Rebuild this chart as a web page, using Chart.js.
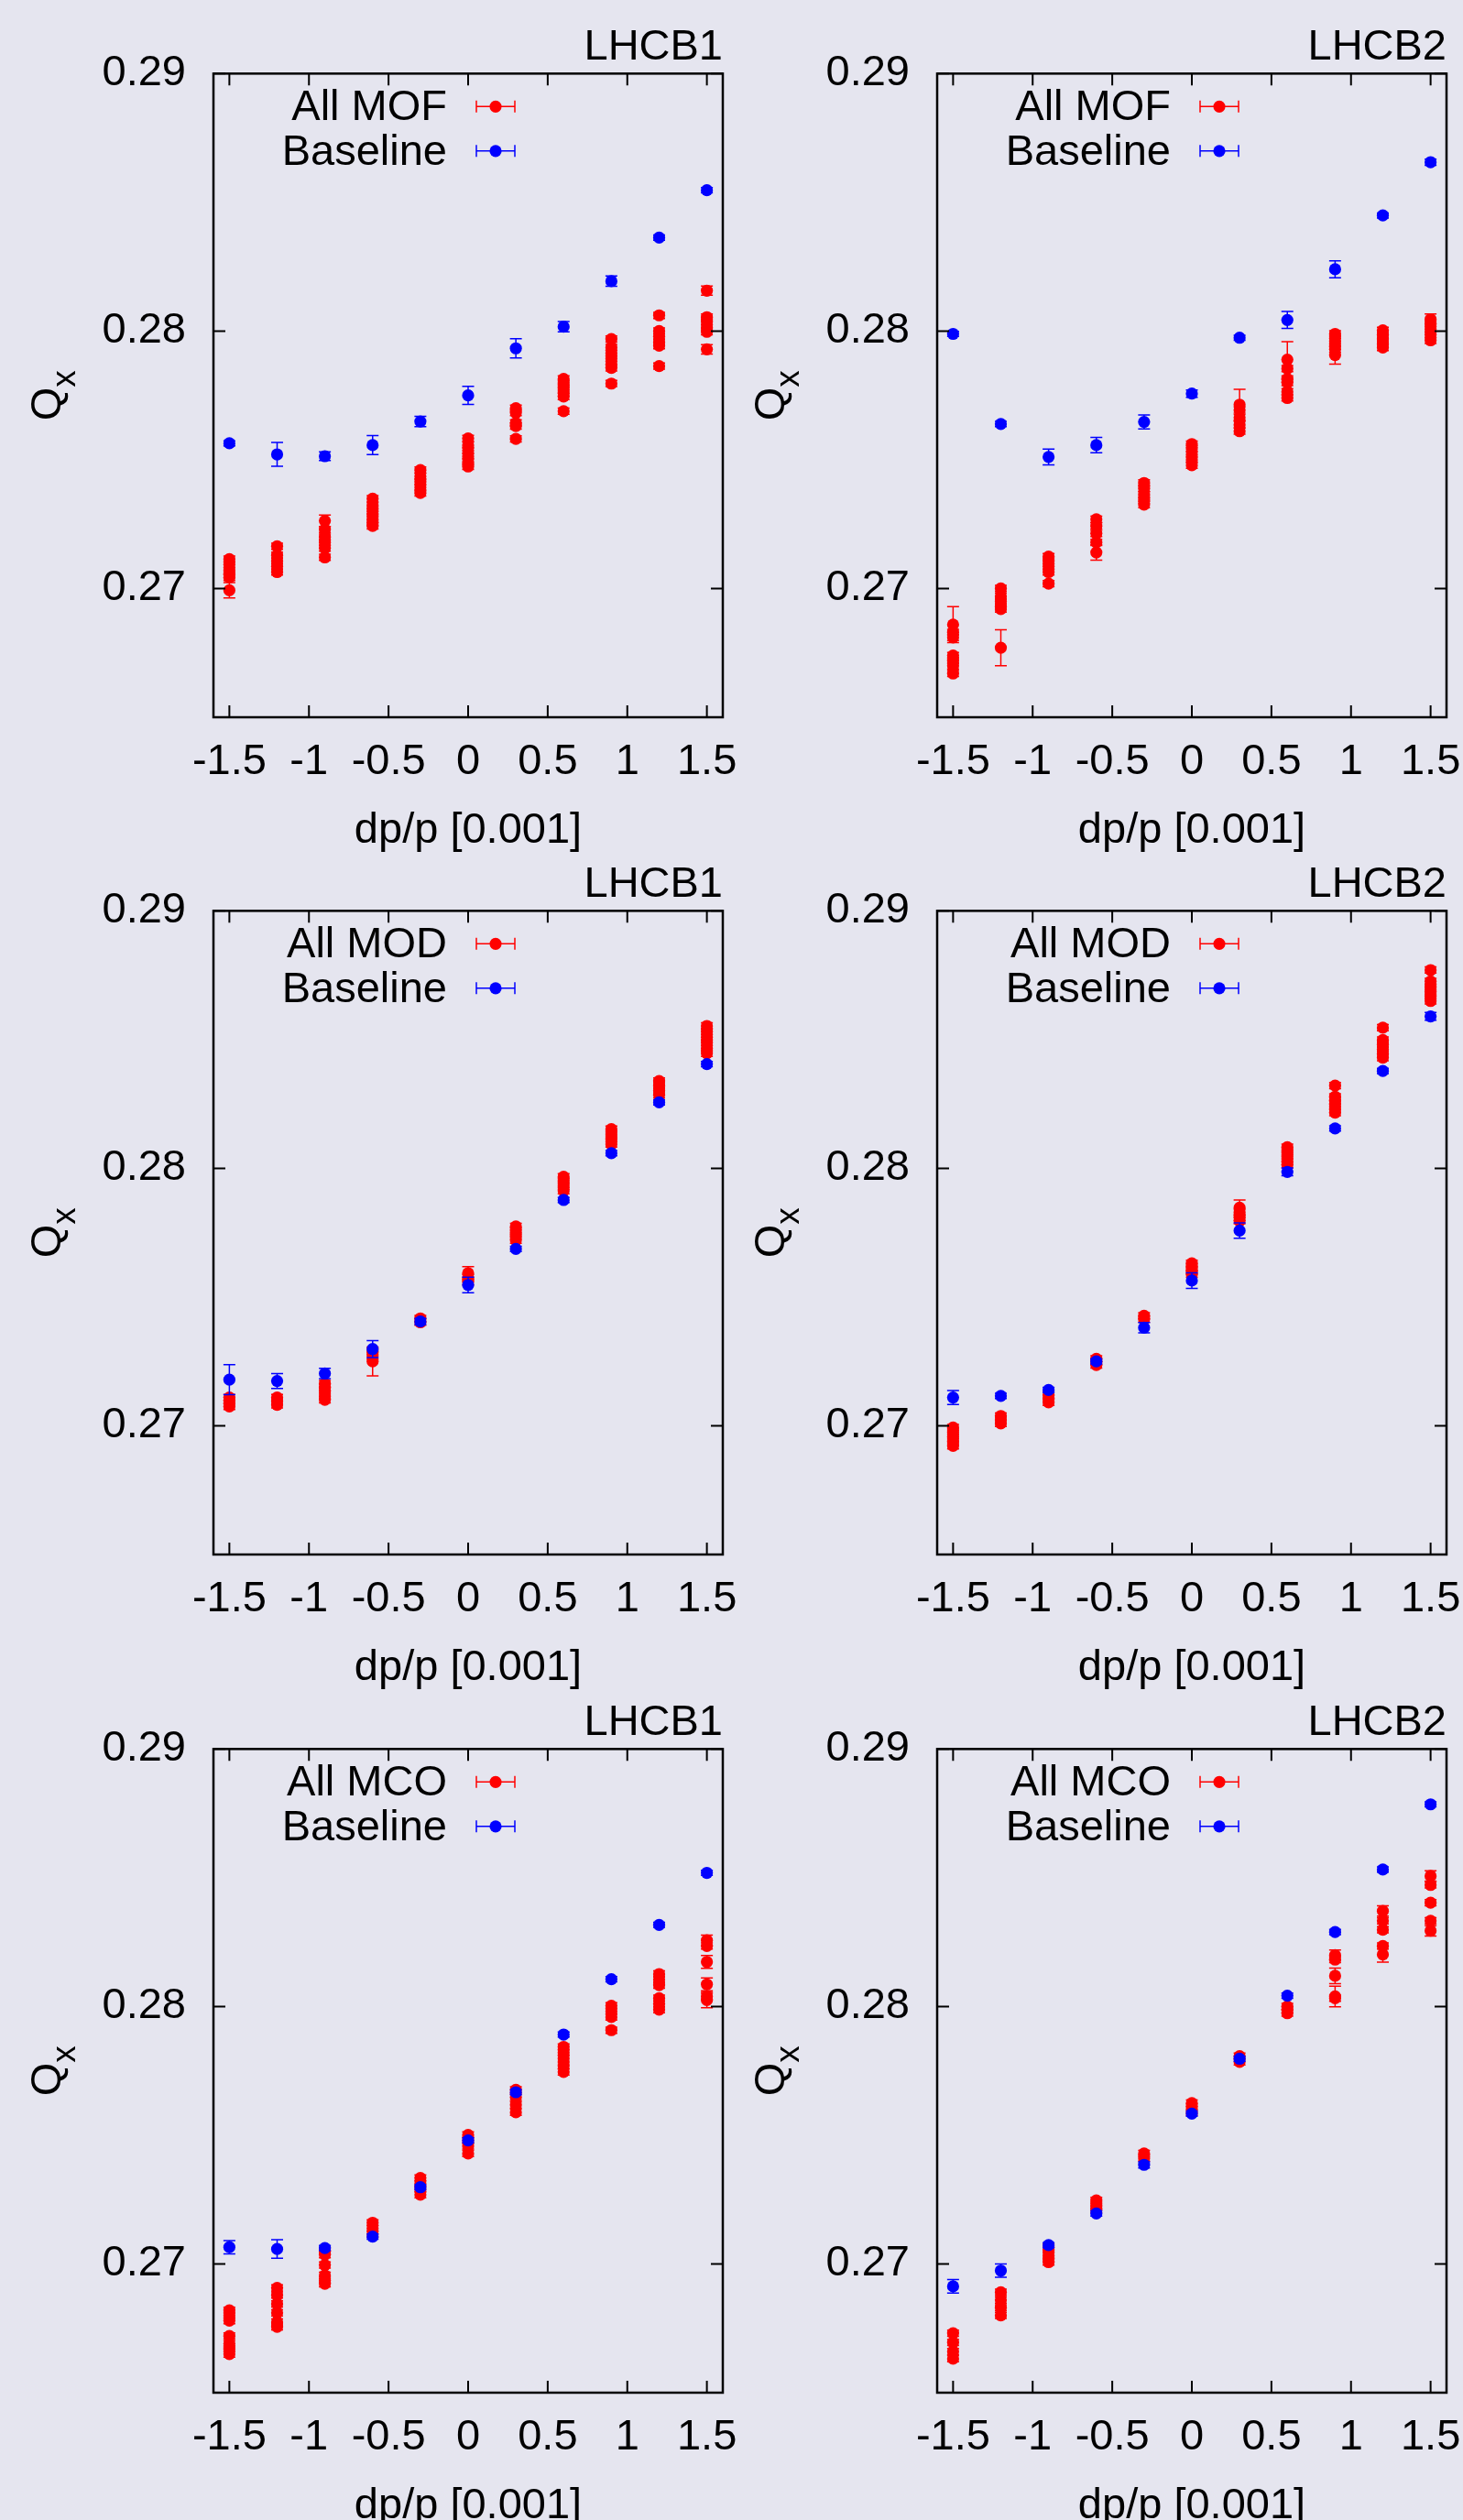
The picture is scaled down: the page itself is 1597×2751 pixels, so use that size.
<!DOCTYPE html>
<html>
<head>
<meta charset="utf-8">
<script src="https://cdn.jsdelivr.net/npm/chart.js@4.4.1/dist/chart.umd.min.js"></script>
<style>
  html, body { margin: 0; padding: 0; width: 1597px; height: 2751px; overflow: hidden; background: #e5e5ef; }
  canvas { position: absolute; }
</style>
</head>
<body>
<canvas id="p1" width="807" height="960" style="left:0;top:0"></canvas>
<canvas id="p2" width="807" height="960" style="left:790px;top:0"></canvas>
<canvas id="p3" width="807" height="960" style="left:0;top:914px"></canvas>
<canvas id="p4" width="807" height="960" style="left:790px;top:914px"></canvas>
<canvas id="p5" width="807" height="960" style="left:0;top:1829px"></canvas>
<canvas id="p6" width="807" height="960" style="left:790px;top:1829px"></canvas>
<script>
// dp/p settings, in units of 0.001
const dpp = [-1.5, -1.2, -0.9, -0.6, -0.3, 0, 0.3, 0.6, 0.9, 1.2, 1.5];
const xTicks = [-1.5, -1, -0.5, 0, 0.5, 1, 1.5];
const yTicks = [0.27, 0.28, 0.29];
const redErr = 0.00012; // default error of the "All ..." points; [value, err] where larger

// MOF
const mofB1Red = [
  [0.27114, 0.27093, 0.27071, 0.27054, 0.27043, [0.26993, 0.0003]],
  [0.27164, 0.27129, 0.27107, 0.27086, 0.27064],
  [[0.27263, 0.00022], 0.27229, 0.27200, 0.27179, 0.27157, 0.27121],
  [0.27349, 0.27321, 0.27300, 0.27279, 0.27257, 0.27243],
  [0.27460, 0.27436, 0.27414, 0.27393, 0.27371],
  [0.27583, 0.27557, 0.27536, 0.27514, 0.27493, 0.27474],
  [0.27700, 0.27683, 0.27643, 0.27631, 0.27581],
  [0.27814, 0.27796, 0.27779, 0.27760, 0.27746, 0.27689],
  [0.27969, 0.27936, 0.27914, 0.27893, 0.27871, 0.27857, 0.27796],
  [0.28061, 0.28000, 0.27979, 0.27957, 0.27943, 0.27864],
  [[0.28157, 0.00018], 0.28054, 0.28036, 0.28014, 0.27997, [0.27929, 0.00018]]
];
const mofB1Base = [0.27564, 0.27521, 0.27514, 0.27557, 0.27649, 0.2775, 0.27933, 0.28017, 0.28194, 0.28363, 0.28547];
const mofB1BaseErr = [0.0001, 0.00046, 0.00017, 0.00037, 0.0002, 0.00035, 0.00037, 0.0002, 0.0002, 0.0001, 0.0001];

const mofB2Red = [
  [[0.2686, 0.0007], 0.2683, 0.2681, 0.2674, 0.2672, 0.2670, 0.2667],
  [0.2700, 0.2697, 0.2695, 0.2693, 0.2692, [0.2677, 0.0007]],
  [0.27124, 0.27107, 0.27086, 0.27064, 0.27019],
  [0.27269, 0.27243, 0.27214, 0.27179, [0.2714, 0.0003]],
  [0.2741, 0.27389, 0.27364, 0.27343, 0.27326],
  [0.27561, 0.27543, 0.27521, 0.275, 0.27479],
  [[0.27714, 0.0006], 0.27693, 0.27664, 0.27636, 0.27611],
  [[0.27889, 0.0007], 0.27854, 0.27814, 0.278, 0.27764, 0.2774],
  [0.27989, 0.27971, 0.2795, 0.27929, [0.27907, 0.00035]],
  [0.28003, 0.27986, 0.27969, 0.2795, 0.27936],
  [[0.28046, 0.0002], 0.28029, 0.28007, 0.27986, 0.27964]
];
const mofB2Base = [0.27989, 0.27639, 0.27511, 0.27557, 0.27647, 0.27757, 0.27974, 0.28043, 0.2824, 0.28449, 0.28656];
const mofB2BaseErr = [0.0001, 0.0001, 0.00031, 0.0003, 0.00027, 0.00014, 0.0001, 0.00033, 0.00033, 0.0001, 0.00012];

// MOD
const modB1Red = [
  [0.2711, 0.27099, 0.27087, 0.27075],
  [0.2711, 0.27096, 0.27081],
  [0.27164, 0.27149, 0.27135, 0.27116, 0.27101],
  [0.27289, 0.27272, [0.2725, 0.00056]],
  [0.27417, 0.27402],
  [[0.27593, 0.00025], 0.27576, 0.27559],
  [0.27774, 0.27757, 0.27738, 0.27721],
  [0.27967, 0.27949, 0.27931, 0.27913],
  [0.28152, 0.28133, 0.28114, 0.28094],
  [0.28339, 0.28321, 0.28302, 0.28285],
  [0.28553, 0.28531, 0.28509, 0.28488, 0.28466, 0.28447]
];
const modB1Base = [0.27179, 0.27174, 0.27203, 0.27298, 0.27405, 0.27547, 0.27687, 0.27877, 0.28059, 0.28256, 0.28405];
const modB1BaseErr = [0.00058, 0.00029, 0.0002, 0.00033, 0.00012, 0.0003, 0.0001, 0.0001, 0.0001, 0.0001, 0.0001];

const modB2Red = [
  [0.26993, 0.26975, 0.26957, 0.26939, 0.26922],
  [0.27038, 0.27023, 0.27009],
  [0.2712, 0.27106, 0.27091],
  [0.2726, 0.2725, 0.27236],
  [0.27427, 0.27414],
  [0.27631, 0.27617, 0.27602, 0.27588],
  [[0.27847, 0.0003], 0.27829, 0.2781, 0.27796],
  [0.28082, 0.28064, 0.28046, 0.28027, 0.28013],
  [0.28321, 0.28278, 0.28263, 0.28249, 0.2823, 0.28216],
  [0.28546, 0.28498, 0.28481, 0.28462, 0.28444, 0.2843],
  [0.2877, 0.28726, 0.28705, 0.28687, 0.28669, 0.2865]
];
const modB2Base = [0.2711, 0.27116, 0.27139, 0.2725, 0.27381, 0.27564, 0.27758, 0.27986, 0.28155, 0.28378, 0.2859];
const modB2BaseErr = [0.00027, 0.0001, 0.0001, 0.0001, 0.0002, 0.0003, 0.0003, 0.00015, 0.0001, 0.0001, 0.00015];

// MCO
const mcoB1Red = [
  [0.2682, 0.2680, 0.2678, 0.2672, 0.2669, 0.2667, 0.2665],
  [0.26907, 0.26879, 0.26845, 0.2681, 0.26774, 0.26756],
  [0.27051, 0.27036, 0.26996, 0.26956, 0.26938, 0.26923],
  [0.2716, 0.27138, 0.27116],
  [0.27334, 0.27312, 0.27291, 0.27269],
  [0.27501, 0.2748, 0.27458, 0.27429],
  [0.27676, 0.27647, 0.27618, 0.27589],
  [0.27843, 0.27821, 0.27799, 0.2777, 0.27746],
  [0.28003, 0.27981, 0.27959, 0.27908],
  [0.28126, 0.28105, 0.28083, 0.28032, 0.2801, 0.27988],
  [[0.28257, 0.0002], 0.28235, [0.28173, 0.00025], [0.28086, 0.00025], 0.28039, [0.28025, 0.0003]]
];
const mcoB1Base = [0.27065, 0.27058, 0.27062, 0.27106, 0.27298, 0.2748, 0.27667, 0.27891, 0.28106, 0.28317, 0.28519];
const mcoB1BaseErr = [0.00026, 0.00036, 0.0001, 0.0001, 0.0001, 0.0001, 0.0001, 0.0001, 0.0001, 0.0001, 0.0001];

const mcoB2Red = [
  [0.26731, 0.26695, 0.2666, 0.26632],
  [0.2689, 0.2686, 0.2683, 0.2680],
  [0.27065, 0.27044, 0.27022, 0.27007],
  [0.27247, 0.27228, 0.27211],
  [0.27429, 0.27411],
  [0.27625, 0.2761, 0.27589],
  [0.27807, 0.27785],
  [0.28, 0.27988, 0.27974],
  [[0.28199, 0.0002], 0.28182, [0.28119, 0.0003], [0.28039, 0.0004], 0.28032],
  [[0.28371, 0.0002], 0.28333, 0.28298, 0.28235, [0.28202, 0.0003]],
  [[0.28507, 0.0002], 0.28472, 0.28403, 0.28333, [0.28294, 0.0002]]
];
const mcoB2Base = [0.26913, 0.26974, 0.27073, 0.27196, 0.27385, 0.27584, 0.27797, 0.28042, 0.28289, 0.28532, 0.28785];
const mcoB2BaseErr = [0.00026, 0.00026, 0.0001, 0.0001, 0.00012, 0.0001, 0.0001, 0.0001, 0.0001, 0.0001, 0.0001];

const FONT = "'Liberation Sans', Arial, Helvetica, sans-serif";
const FS = 47;
const DOT = 6.6;

// gnuplot look: error bars, closed frame with inward mirrored ticks, key, Q_x label
const gnuplotLook = {
  id: 'gnuplotLook',
  beforeDatasetDraw(chart, args) {
    const ds = chart.data.datasets[args.index];
    const yScale = chart.scales.y;
    const ctx = chart.ctx;
    ctx.save();
    ctx.strokeStyle = ds.borderColor;
    ctx.lineWidth = 1.5;
    args.meta.data.forEach((pt, i) => {
      const raw = ds.data[i];
      const top = yScale.getPixelForValue(raw.y + raw.e);
      const bot = yScale.getPixelForValue(raw.y - raw.e);
      ctx.beginPath();
      ctx.moveTo(pt.x, top); ctx.lineTo(pt.x, bot);
      ctx.moveTo(pt.x - 6.5, top); ctx.lineTo(pt.x + 6.5, top);
      ctx.moveTo(pt.x - 6.5, bot); ctx.lineTo(pt.x + 6.5, bot);
      ctx.stroke();
    });
    ctx.restore();
  },
  afterDraw(chart) {
    const {ctx, chartArea: a, scales} = chart;
    ctx.save();
    ctx.strokeStyle = '#000';
    ctx.lineWidth = 2;
    ctx.beginPath();
    xTicks.forEach(v => {
      const px = scales.x.getPixelForValue(v);
      ctx.moveTo(px, a.bottom); ctx.lineTo(px, a.bottom - 13);
      ctx.moveTo(px, a.top); ctx.lineTo(px, a.top + 13);
    });
    yTicks.forEach(v => {
      const py = scales.y.getPixelForValue(v);
      ctx.moveTo(a.left, py); ctx.lineTo(a.left + 13, py);
      ctx.moveTo(a.right, py); ctx.lineTo(a.right - 13, py);
    });
    ctx.stroke();
    ctx.lineWidth = 2.5;
    ctx.strokeRect(a.left, a.top, a.right - a.left, a.bottom - a.top);

    // key
    ctx.font = FS + 'px ' + FONT;
    ctx.textAlign = 'right';
    ctx.textBaseline = 'middle';
    chart.data.datasets.forEach((ds, i) => {
      const y = a.top + 36 + i * 48.5;
      ctx.fillStyle = '#000';
      ctx.fillText(ds.label, a.left + 255, y + 2);
      ctx.strokeStyle = ds.borderColor;
      ctx.lineWidth = 1.5;
      ctx.beginPath();
      ctx.moveTo(a.left + 287, y); ctx.lineTo(a.left + 329, y);
      ctx.moveTo(a.left + 287, y - 6.5); ctx.lineTo(a.left + 287, y + 6.5);
      ctx.moveTo(a.left + 329, y - 6.5); ctx.lineTo(a.left + 329, y + 6.5);
      ctx.stroke();
      ctx.fillStyle = ds.backgroundColor;
      ctx.beginPath();
      ctx.arc(a.left + 308, y, DOT, 0, Math.PI * 2);
      ctx.fill();
    });

    // Q_x
    ctx.translate(66, (a.top + a.bottom) / 2);
    ctx.rotate(-Math.PI / 2);
    ctx.fillStyle = '#000';
    ctx.textAlign = 'left';
    ctx.textBaseline = 'alphabetic';
    ctx.font = FS + 'px ' + FONT;
    const wQ = ctx.measureText('Q').width;
    ctx.font = '37px ' + FONT;
    const wx = ctx.measureText('x').width;
    const x0 = -(wQ + wx) / 2;
    ctx.font = FS + 'px ' + FONT;
    ctx.fillText('Q', x0, 0);
    ctx.font = '37px ' + FONT;
    ctx.fillText('x', x0 + wQ, 16);
    ctx.restore();
  }
};

function makePanel(id, beam, label, red, base, baseErr) {
  const redPts = [];
  red.forEach((col, i) => col.forEach(v => {
    const p = Array.isArray(v) ? v : [v, redErr];
    redPts.push({x: dpp[i], y: p[0], e: p[1]});
  }));
  const basePts = base.map((v, i) => ({x: dpp[i], y: v, e: baseErr[i]}));
  const tickFont = {family: FONT, size: FS, weight: 'normal', lineHeight: 1.2};

  new Chart(document.getElementById(id), {
    type: 'scatter',
    data: {
      datasets: [
        {label: label, data: redPts, backgroundColor: '#ff0000', borderColor: '#ff0000',
         pointRadius: DOT, pointBorderWidth: 0, order: 2},
        {label: 'Baseline', data: basePts, backgroundColor: '#0000ff', borderColor: '#0000ff',
         pointRadius: DOT, pointBorderWidth: 0, order: 1}
      ]
    },
    options: {
      responsive: false,
      animation: false,
      events: [],
      layout: {padding: {left: 0, top: 23, right: 18, bottom: 25}, autoPadding: false},
      plugins: {
        legend: {display: false},
        tooltip: {enabled: false},
        title: {display: true, text: beam, align: 'end', color: '#000', padding: 0,
                font: {family: FONT, size: FS, weight: 'normal', lineHeight: 1.22}}
      },
      scales: {
        x: {
          type: 'linear', min: -1.6, max: 1.6,
          grid: {display: false, drawTicks: false},
          border: {display: false},
          afterBuildTicks: s => { s.ticks = xTicks.map(v => ({value: v})); },
          afterFit: s => { s.height = 152; s.paddingLeft = 0; s.paddingRight = 0; },
          ticks: {color: '#000', font: tickFont, padding: 21, maxRotation: 0, autoSkip: false,
                  callback: v => String(v)},
          title: {display: true, text: 'dp/p [0.001]', color: '#000', padding: 0, font: tickFont}
        },
        y: {
          type: 'linear', min: 0.265, max: 0.29,
          grid: {display: false, drawTicks: false},
          border: {display: false},
          afterBuildTicks: s => { s.ticks = yTicks.map(v => ({value: v})); },
          afterFit: s => { s.width = 233; s.paddingTop = 0; s.paddingBottom = 0; },
          ticks: {color: '#000', font: tickFont, padding: 30, autoSkip: false,
                  callback: v => v.toFixed(2)}
        }
      }
    },
    plugins: [gnuplotLook]
  });
}

makePanel('p1', 'LHCB1', 'All MOF', mofB1Red, mofB1Base, mofB1BaseErr);
makePanel('p2', 'LHCB2', 'All MOF', mofB2Red, mofB2Base, mofB2BaseErr);
makePanel('p3', 'LHCB1', 'All MOD', modB1Red, modB1Base, modB1BaseErr);
makePanel('p4', 'LHCB2', 'All MOD', modB2Red, modB2Base, modB2BaseErr);
makePanel('p5', 'LHCB1', 'All MCO', mcoB1Red, mcoB1Base, mcoB1BaseErr);
makePanel('p6', 'LHCB2', 'All MCO', mcoB2Red, mcoB2Base, mcoB2BaseErr);
</script>
</body>
</html>
